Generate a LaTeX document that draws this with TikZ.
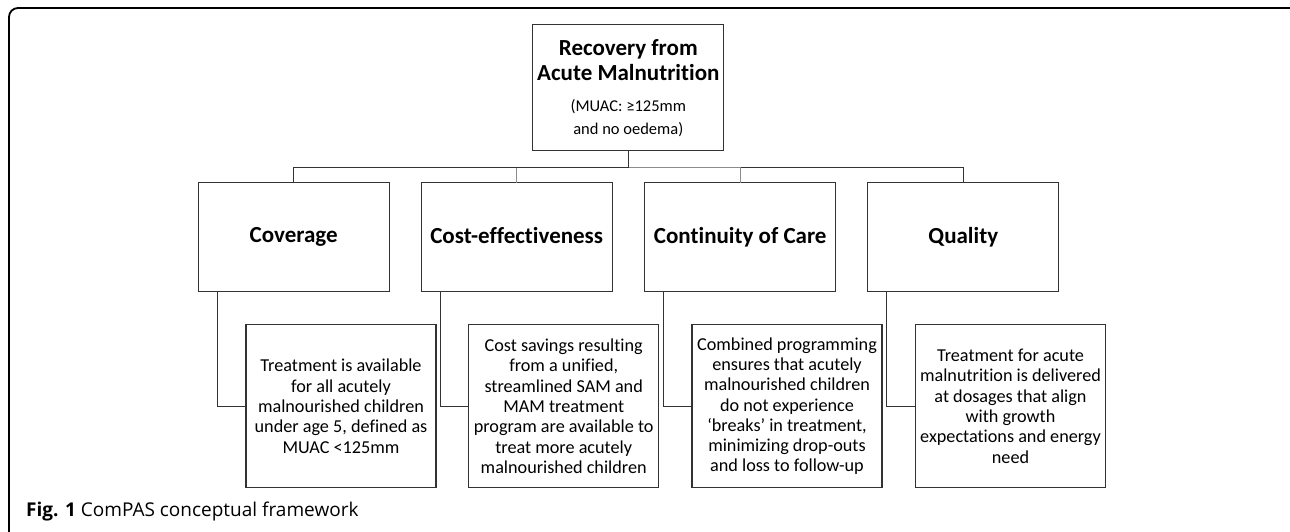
\documentclass[tikz,border=0pt]{standalone}
\usepackage{fontspec}
\setmainfont{Carlito}[Ligatures=NoCommon]
\newfontfamily\capfont{Open Sans}
\usetikzlibrary{positioning,calc}
\tikzset{
	thick,
	>=latex,
	headbox/.style = {
			draw=black!80, line width=1.3pt,
			minimum width=191pt, minimum height=109pt,
			inner sep=0pt, outer sep=0pt, align=center,
			font=\fontsize{23}{25}\selectfont\bfseries,
			execute at begin node={\vphantom{Qy}},
		},
	textbox/.style = {
			draw=black!80, line width=1.3pt,
			minimum width=190pt, minimum height=163pt,
			inner sep=0pt, outer sep=0pt, align=center,
			font=\fontsize{18.2}{20.3}\selectfont,
		},
	link/.style = {draw=black!80, line width=1.3pt},
	greylink/.style = {draw=black!45, line width=1.3pt},
}

\begin{document}
\begin{tikzpicture}[x=1pt,y=-1pt]
	\useasboundingbox (0,0) rectangle (1290,532);
	% Figure frame (cut at the right and bottom)
	\begin{scope}
		\clip (0,0) rectangle (1290,532);
		\draw[line width=1.8pt, rounded corners=9pt] (9,8) rectangle (1300,545);
	\end{scope}

	% Goal
	\node[draw=black!80, line width=1.3pt, minimum width=191pt, minimum height=126pt,
		inner sep=0pt, outer sep=0pt, align=center,
		font=\fontsize{16.5}{23}\selectfont] (goal) at (628.3,87.8)
		{{\fontsize{23}{23}\selectfont\bfseries Recovery from}\\[2pt]
		 {\fontsize{23}{23}\selectfont\bfseries Acute Malnutrition}\\[8pt]
		 (MUAC: ≥125mm\\
		 and no oedema)};

	% Four components
	\node[headbox] (cov)  at (293.7,237.2) {Coverage};
	\node[headbox] (cost) at (516.7,237.2) {Cost-effectiveness};
	\node[headbox] (cont) at (740.2,237.2) {Continuity of Care};
	\node[headbox] (qual) at (963.3,237.2) {Quality};

	% Descriptions
	\node[textbox] (covtxt)  at (341.0,406.2)
		{Treatment is available\\for all acutely\\malnourished children\\under age 5, defined as\\MUAC <125mm};
	\node[textbox] (costtxt) at (563.7,406.2)
		{Cost savings resulting\\from a unified,\\streamlined SAM and\\MAM treatment\\program are available to\\treat more acutely\\malnourished children};
	\node[textbox] (conttxt) at (787.0,406.2)
		{Combined programming\\ensures that acutely\\malnourished children\\do not experience\\‘breaks’ in treatment,\\minimizing drop-outs\\and loss to follow-up};
	\node[textbox] (qualtxt) at (1010.5,406.2)
		{Treatment for acute\\malnutrition is delivered\\at dosages that align\\with growth\\expectations and energy\\need};

	% Tree from the goal
	\coordinate (bus) at ($(goal.south)+(0,16.5)$);
	\draw[link]     (goal.south) -- (bus) -| (qual.north);
	\draw[greylink] (bus) -| (cont.north);
	\draw[greylink] (bus) -| (cost.north);
	\draw[link]     (goal.south) -- (bus) -| (cov.north);

	% Elbows to the descriptions
	\foreach \a/\b in {cov/covtxt,cost/costtxt,cont/conttxt,qual/qualtxt}
		\draw[link] ($(\a.south west)+(19,0)$) |- (\b.west);

	% Caption
	\node[anchor=base west, inner sep=0pt, font=\capfont\fontsize{19}{22}\selectfont] (cap) at (26,516)
		{\textbf{Fig. 1} ComPAS conceptual framework};
\end{tikzpicture}
\end{document}
